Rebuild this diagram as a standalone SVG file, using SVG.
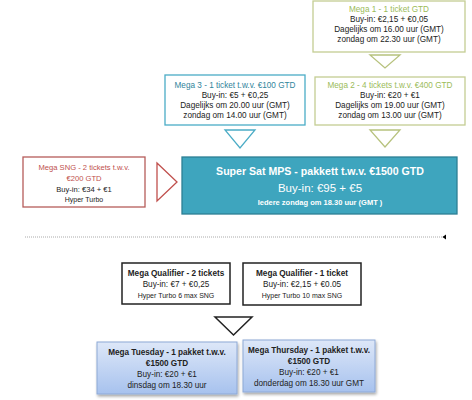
<svg xmlns="http://www.w3.org/2000/svg" width="472" height="400" viewBox="0 0 472 400">
<defs>
<linearGradient id="gblue" x1="0" y1="0" x2="0" y2="1">
<stop offset="0" stop-color="#dde7f8"/>
<stop offset="1" stop-color="#a7c2ee"/>
</linearGradient>
<filter id="sh" x="-10%" y="-10%" width="130%" height="140%">
<feGaussianBlur in="SourceAlpha" stdDeviation="1.5"/>
<feOffset dx="1" dy="2" result="b"/>
<feComponentTransfer><feFuncA type="linear" slope="0.35"/></feComponentTransfer>
<feMerge><feMergeNode/><feMergeNode in="SourceGraphic"/></feMerge>
</filter>
</defs>
<style>
text{font-family:"Liberation Sans",Arial,sans-serif;text-anchor:middle;font-size:8.2px;fill:#222}
.green{fill:none;stroke:#c4cd93;stroke-width:1.3}
.gt{fill:#9bbb59}
.blue{fill:none;stroke:#4bacc6;stroke-width:1.3}
.bt{fill:#31849b}
.red{fill:none;stroke:#b65c5a;stroke-width:1.3}
.rt{fill:#c0504d}
.blk{fill:#fff;stroke:#222;stroke-width:1.5}
.b{font-weight:bold}
.sm{font-size:7px}
.sng{font-size:7.6px}
.w{fill:#fff}
.grad{fill:url(#gblue);stroke:#8ea9d6;stroke-width:1;filter:url(#sh)}
</style>
<rect width="472" height="400" fill="#fff"/>

<g id="mega1">
<rect x="313" y="1" width="152" height="51" class="green"/>
<text x="389" y="12" class="gt">Mega 1 - 1 ticket GTD</text>
<text x="389" y="22">Buy-in: €2,15  + €0,05</text>
<text x="389" y="32">Dagelijks om 16.00 uur (GMT)</text>
<text x="389" y="42">zondag om 22.30 uur (GMT)</text>
</g>

<g id="mega3">
<rect x="165" y="75" width="140" height="50" class="blue"/>
<text x="235" y="88" class="bt">Mega 3 - 1  ticket t.w.v. €100  GTD</text>
<text x="235" y="98">Buy-in:  €5 + €0,25</text>
<text x="235" y="108">Dagelijks om 20.00 uur (GMT)</text>
<text x="235" y="118">zondag om 14.00 uur (GMT)</text>
</g>

<g id="mega2">
<rect x="315" y="77" width="150" height="48" class="green"/>
<text x="390" y="88" class="gt">Mega 2 - 4  tickets t.w.v. €400 GTD</text>
<text x="390" y="98">Buy-in: €20 + €1</text>
<text x="390" y="108">Dagelijks om 19.00 uur (GMT)</text>
<text x="390" y="118">zondag om 13.00 uur (GMT)</text>
</g>

<g id="megasng">
<rect x="23" y="157" width="122" height="50" class="red"/>
<text x="84" y="170" class="rt sng">Mega SNG - 2 tickets  t.w.v.</text>
<text x="84" y="181" class="rt sng">€200  GTD</text>
<text x="84" y="192" class="sng">Buy-in: €34 + €1</text>
<text x="84" y="202" class="sm">Hyper Turbo</text>
</g>

<g id="supersat">
<rect x="182" y="157" width="275" height="57" fill="#3ea5be" stroke="#2d7f94" stroke-width="1.3"/>
<text x="320" y="175" class="b w" style="font-size:10.6px">Super Sat MPS -  pakkett t.w.v. €1500 GTD</text>
<text x="320" y="192" class="w" style="font-size:11.5px">Buy-in:  €95 + €5</text>
<text x="320" y="205" class="b w" style="font-size:7.5px">Iedere zondag om 18.30 uur (GMT )</text>
</g>

<g id="qual2">
<rect x="122" y="263" width="108" height="41" class="blk"/>
<text x="176" y="276" class="b">Mega  Qualifier  - 2 tickets</text>
<text x="176" y="287">Buy-in:  €7 + €0,25</text>
<text x="176" y="298" class="sm">Hyper Turbo 6 max SNG</text>
</g>

<g id="qual1">
<rect x="243" y="263" width="118" height="42" class="blk"/>
<text x="302" y="276" class="b">Mega  Qualifier  - 1 ticket</text>
<text x="302" y="287">Buy-in:  €2,15  + €0.05</text>
<text x="302" y="298" class="sm">Hyper Turbo 10 max SNG</text>
</g>

<g id="tuesday">
<rect x="97" y="342" width="140" height="52" class="grad"/>
<text x="167" y="355" class="b">Mega Tuesday  - 1  pakket t.w.v.</text>
<text x="167" y="366" class="b">€1500  GTD</text>
<text x="167" y="377">Buy-in: €20 + €1</text>
<text x="167" y="388">dinsdag om 18.30 uur</text>
</g>

<g id="thursday">
<rect x="243" y="340" width="132" height="52" class="grad"/>
<text x="309" y="353" class="b">Mega Thursday  - 1  pakket t.w.v.</text>
<text x="309" y="364" class="b">€1500 GTD</text>
<text x="309" y="375">Buy-in: €20 + €1</text>
<text x="309" y="386">donderdag  om 18.30 uur GMT</text>
</g>

<g id="connectors">
<polygon points="370,55 400,55 385,68" fill="#fff" stroke="#b7c27d" stroke-width="1.3"/>
<polygon points="225,130 255,130 240,148" fill="#fff" stroke="#4bacc6" stroke-width="1.3"/>
<polygon points="370,130 400,130 385,147" fill="#fff" stroke="#b7c27d" stroke-width="1.3"/>
<polygon points="157,163 177,182 157,201" fill="#fff" stroke="#c0504d" stroke-width="1.3"/>
<line x1="25" y1="237" x2="447" y2="237" stroke="#aaa" stroke-width="1" stroke-dasharray="1,1"/>
<polygon points="446,234.5 446,239.5 442.5,237" fill="#000"/>
<polygon points="215,317 252,317 233.5,335" fill="#fff" stroke="#222" stroke-width="1.5"/>
</g>
</svg>
